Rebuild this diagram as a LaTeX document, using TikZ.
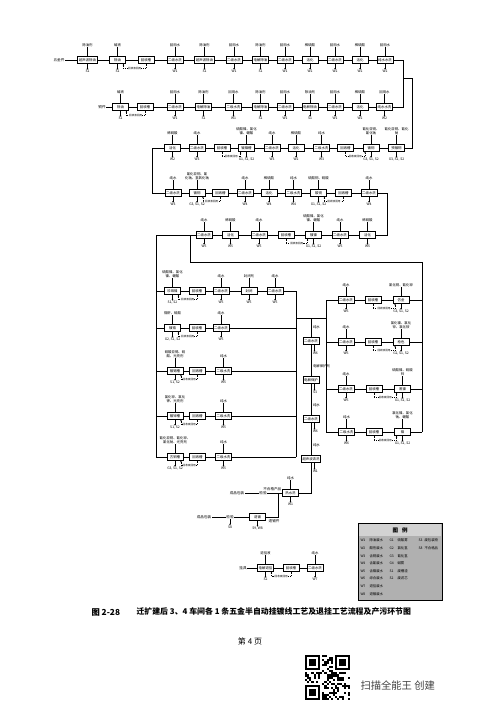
\documentclass[tikz,border=0pt]{standalone}
\usepackage{fontspec}
\setmainfont{Noto Sans CJK SC}
\usetikzlibrary{arrows.meta, positioning, calc}

\tikzset{
  box/.style={draw, line width=0.9pt, fill=white, minimum width=16pt, minimum height=6.4pt,
              inner xsep=1.2pt, inner ysep=0.4pt, font=\fontsize{3.4}{4}\selectfont},
  inlab/.style={inner sep=0.3pt, align=center, font=\fontsize{3.4}{4}\selectfont},
  outlab/.style={inner sep=0.3pt, align=center, font=\fontsize{3.4}{4}\selectfont},
  txt/.style={inner sep=0.5pt, font=\fontsize{3.6}{4}\selectfont},
  reclab/.style={fill=white, inner sep=0.2pt, font=\fontsize{2.6}{3}\selectfont},
  legtxt/.style={inner sep=0.3pt, font=\fontsize{3.4}{4}\selectfont},
  flow/.style={line width=0.75pt},
  feed/.style={line width=0.45pt},
  emit/.style={line width=0.4pt, -{Stealth[length=1.6pt, width=1.5pt]}},
  back/.style={line width=0.4pt, dash pattern=on 1pt off 0.8pt, -{Stealth[length=1.6pt, width=1.5pt]}},
}

% one tank: name, x, y, text, chemicals in, emission out
\newcommand{\stage}[6]{%
  \node[box] (#1) at (#2,#3) {#4};
  \if\relax\detokenize{#5}\relax\else
    \node[inlab, anchor=south] (#1-in) at ($(#1.north)+(0,-9)$) {#5};
    \draw[feed] (#1-in) -- (#1);
  \fi
  \if\relax\detokenize{#6}\relax\else
    \node[outlab, anchor=north] (#1-out) at ($(#1.south)+(0,6)$) {#6};
    \draw[emit] (#1) -- (#1-out);
  \fi}

% tank in the vertical column
\newcommand{\vstage}[6]{%
  \node[box] (#1) at (#2,#3) {#4};
  \node[inlab, anchor=south west] (#1-in) at ($(#1.north)+(1.5,-8)$) {#5};
  \draw[feed] ($(#1-in.south west)+(3,0)$) -- ($(#1-in.south west)+(3,0)$ |- #1.north);
  \node[outlab, anchor=north west] (#1-out) at ($(#1.south)+(1.5,7)$) {#6};
  \draw[emit] ($(#1.south)+(3.5,0)$) -- ($(#1-out.north west)+(2,0)$);}

% dashed return of recovered liquid
\newcommand{\recycle}[3]{%
  \draw[back] (#1.south) -- ++(0,5) -| node[reclab, pos=0.25] {回收液回用}
    ($(#2.south #3)!0.3!(#2.south)$);}

\begin{document}
\begin{tikzpicture}[x=1pt, y=-1pt]
  \useasboundingbox (0,0) rectangle (499,707);

  % row 1
  \node[txt] (wj) at (59,60) {五金件};
  \stage{a1}{87.5}{60}{超声波除油}{除油剂}{S1}
  \stage{a2}{117.5}{60}{除油}{碱液}{S1}
  \stage{a3}{146}{60}{回收槽}{}{}
  \stage{a4}{175}{60}{二级水洗}{回用水}{W1}
  \stage{a5}{204.5}{60}{超声波除油}{除油剂}{S1}
  \stage{a6}{234}{60}{二级水洗}{回用水}{W1}
  \stage{a7}{260.5}{60}{电解除油}{除油剂}{S1}
  \stage{a8}{285}{60}{二级水洗}{回用水}{W1}
  \stage{a9}{310}{60}{活化}{稀硫酸}{W2}
  \stage{a10}{335}{60}{二级水洗}{回用水}{W2}
  \stage{a11}{360}{60}{活化}{稀硫酸}{W2}
  \stage{a12}{385}{60}{纯水水洗}{回用水}{W2}
  \recycle{a3}{a2}{east}
  \draw[flow] (wj) -- (a1) -- (a2) -- (a3) -- (a4) -- (a5) -- (a6) -- (a7) -- (a8) -- (a9) -- (a10) -- (a11) -- (a12);

  % row 2
  \node[txt] (tj) at (102,107) {铜件};
  \stage{b1}{120.5}{107}{除油}{碱液}{S1}
  \stage{b2}{145}{107}{回收槽}{}{}
  \stage{b3}{175}{107}{二级水洗}{回用水}{W1}
  \stage{b4}{203.5}{107}{电解除油}{除油剂}{S1}
  \stage{b5}{233.5}{107}{二级水洗}{回用水}{W1}
  \stage{b6}{260.5}{107}{电解除油}{除油剂}{S1}
  \stage{b7}{285}{107}{二级水洗}{回用水}{W1}
  \stage{b8}{310}{107}{电解除油}{除油剂}{S1}
  \stage{b9}{335}{107}{二级水洗}{回用水}{W1}
  \stage{b10}{360}{107}{活化}{稀硫酸}{W2}
  \stage{b11}{384.5}{107}{纯水水洗}{回用水}{W2}
  \recycle{b2}{b1}{east}
  \draw[flow] (tj) -- (b1) -- (b2) -- (b3) -- (b4) -- (b5) -- (b6) -- (b7) -- (b8) -- (b9) -- (b10) -- (b11);

  \coordinate (mj) at (403,78);
  \coordinate (mk) at (412,78);
  \draw[flow] (a12) -| (mj);
  \draw[flow] (b11) -| (mj);

  % row 3
  \stage{c1}{396.5}{148}{预镀铜}{氰化亚铜、氰化\\钠}{G3, S1, S2}
  \stage{c2}{371}{148}{镀铜}{氰化亚铜、\\氰化钠}{G3, S1, S2}
  \stage{c3}{345.5}{148}{回收槽}{}{}
  \stage{c4}{321.5}{148}{二级水洗}{纯水}{W3}
  \stage{c5}{296}{148}{活化}{稀硫酸}{W2}
  \stage{c6}{272}{148}{二级水洗}{纯水}{W3}
  \stage{c7}{246.5}{148}{镀镍槽}{硫酸镍、氯化\\镍、硼酸}{G1, S1, S2}
  \stage{c8}{222}{148}{回收槽}{}{}
  \stage{c9}{197}{148}{二级水洗}{纯水}{W3}
  \stage{c10}{172.5}{148}{活化}{稀硫酸}{W2}
  \recycle{c3}{c2}{west}
  \recycle{c8}{c7}{west}
  \coordinate (t3) at (152,148);
  \draw[flow] (mj) -- (mk) |- (c1);
  \draw[flow] (c1) -- (c2) -- (c3) -- (c4) -- (c5) -- (c6) -- (c7) -- (c8) -- (c9) -- (c10) -- (t3);

  % row 4
  \stage{d1}{173}{193}{二级水洗}{纯水}{W3}
  \stage{d2}{197}{193}{镀铜}{氰化亚铜、氰\\化钠、氢氧化钠}{G3, S1, S2}
  \stage{d3}{220.5}{193}{回收槽}{}{}
  \stage{d4}{245}{193}{二级水洗}{纯水}{W4}
  \stage{d5}{269}{193}{活化}{稀硫酸}{W4}
  \stage{d6}{293.5}{193}{二级水洗}{纯水}{W4}
  \stage{d7}{318.5}{193}{酸铜}{硫酸铜、硫酸}{G1, S1, S2}
  \stage{d8}{343.5}{193}{回收槽}{}{}
  \stage{d9}{369}{193}{二级水洗}{纯水}{W4}
  \recycle{d3}{d2}{east}
  \recycle{d8}{d7}{east}
  \coordinate (t5) at (387,193);
  \draw[flow] (t3) |- (d1);
  \draw[flow] (d1) -- (d2) -- (d3) -- (d4) -- (d5) -- (d6) -- (d7) -- (d8) -- (d9) -- (t5);

  % row 5
  \stage{e1}{367.5}{235}{活化}{稀硫酸}{W5}
  \stage{e2}{340}{235}{二级水洗}{纯水}{W5}
  \stage{e3}{313.5}{235}{镀镍}{硫酸镍、氯化\\镍、硼酸}{G1, S1, S2}
  \stage{e4}{286}{235}{回收槽}{}{}
  \stage{e5}{259}{235}{二级水洗}{纯水}{W5}
  \stage{e6}{230.5}{235}{活化}{稀硫酸}{W5}
  \stage{e7}{204}{235}{二级水洗}{纯水}{W5}
  \recycle{e4}{e3}{west}
  \coordinate (s1) at (190,235);
  \coordinate (s2) at (156,235);
  \draw[flow] (t5) |- (e1);
  \draw[flow] (e1) -- (e2) -- (e3) -- (e4) -- (e5) -- (e6) -- (e7) -- (s2);

  % split into the two groups of plating tanks
  \coordinate (s3) at (422,262);
  \coordinate (s4) at (422,432);
  \coordinate (s5) at (156,457);
  \coordinate (s6) at (296,291);
  \coordinate (s7) at (296,457);
  \coordinate (s8) at (296,318);
  \coordinate (s9) at (326,318);
  \coordinate (s10) at (326,300);
  \coordinate (s11) at (326,432);
  \coordinate (s12) at (311,318);
  \draw[flow] (s1) |- (s3) -- (s4);
  \draw[flow] (s2) -- (s5);
  \draw[flow] (s6) -- (s7);
  \draw[flow] (s8) -- (s9);
  \draw[flow] (s10) -- (s11);

  % left group
  \stage{g1}{172.5}{291}{珍珠镍}{硫酸镍、氯化\\镍、硼酸}{S1, S2}
  \stage{g2}{197}{291}{回收槽}{}{}
  \stage{g3}{221}{291}{二级水洗}{纯水}{W5}
  \stage{g4}{249}{291}{封闭}{封闭剂}{W5}
  \stage{g5}{275}{291}{二级水洗}{纯水}{W5}
  \recycle{g2}{g1}{east}
  \draw[flow] (s2 |- g1) -- (g1) -- (g2) -- (g3) -- (g4) -- (g5) -- (g5 -| s6);

  \stage{g6}{172.5}{328}{镀铬}{铬酐、硫酸}{G2, S1, S2}
  \stage{g7}{197}{328}{回收槽}{}{}
  \stage{g8}{221}{328}{二级水洗}{纯水}{W5}
  \recycle{g7}{g6}{east}
  \draw[flow] (s2 |- g6) -- (g6) -- (g7) -- (g8) -- (g8 -| s6);

  \stage{g9}{175}{371}{镀锡槽}{硫酸亚锡、硫\\酸、光亮剂}{S1, S2}
  \stage{g10}{197.5}{371}{回收槽}{}{}
  \stage{g11}{223.5}{371}{二级水洗}{纯水}{W5}
  \recycle{g10}{g9}{east}
  \draw[flow] (s2 |- g9) -- (g9) -- (g10) -- (g11) -- (g11 -| s6);

  \stage{g12}{175}{416}{镀锌槽}{氯化锌、氯化\\钾、光亮剂}{S1, S2}
  \stage{g13}{197.5}{416}{回收槽}{}{}
  \stage{g14}{223.5}{416}{二级水洗}{纯水}{W5}
  \recycle{g13}{g12}{east}
  \draw[flow] (s2 |- g12) -- (g12) -- (g13) -- (g14) -- (g14 -| s6);

  \stage{g15}{175}{457}{古铜槽}{氰化亚铜、氰化锌、\\氰化钠、光亮剂}{G3, S1, S2}
  \stage{g16}{197.5}{457}{回收槽}{}{}
  \stage{g17}{223.5}{457}{二级水洗}{纯水}{W5}
  \recycle{g16}{g15}{east}
  \draw[flow] (s5) -- (g15) -- (g16) -- (g17) -- (s7);

  % right group
  \stage{f1}{401}{300}{仿金}{氰化铜、氰化锌}{G3, S1, S2}
  \stage{f2}{373}{300}{回收槽}{}{}
  \stage{f3}{346}{300}{二级水洗}{纯水}{W6}
  \recycle{f2}{f1}{west}
  \draw[flow] (s3 |- f1) -- (f1) -- (f2) -- (f3) -- (f3 -| s10);

  \stage{f4}{401}{342}{枪色}{氯化镍、氯化\\锌、氯化铵}{G2, S1, S2}
  \stage{f5}{373}{342}{回收槽}{}{}
  \stage{f6}{346}{342}{二级水洗}{纯水}{W6}
  \recycle{f5}{f4}{west}
  \draw[flow] (s3 |- f4) -- (f4) -- (f5) -- (f6) -- (f6 -| s10);

  \stage{f7}{402.5}{389}{黑镍}{硫酸镍、硫酸\\锌}{G1, S1, S2}
  \stage{f8}{374}{389}{回收槽}{}{}
  \stage{f9}{346}{389}{二级水洗}{纯水}{W6}
  \recycle{f8}{f7}{west}
  \draw[flow] (s3 |- f7) -- (f7) -- (f8) -- (f9) -- (f9 -| s10);

  \stage{f10}{402.5}{432}{镍}{氯化镍、氯化\\钠、硼酸}{G1, S1, S2}
  \stage{f11}{374}{432}{回收槽}{}{}
  \stage{f12}{346.5}{432}{二级水洗}{纯水}{W6}
  \recycle{f11}{f10}{west}
  \draw[flow] (s4) -- (f10) -- (f11) -- (f12) -- (s11);

  % common column
  \vstage{h1}{311}{341}{二级水洗}{纯水}{W6}
  \vstage{h2}{311}{380}{电解保护}{电解保护剂}{S3}
  \vstage{h3}{311}{419}{二级水洗}{纯水}{W6}
  \vstage{h4}{311}{459}{超声波清洗}{纯水}{W1}
  \draw[flow] (s12) -- (h1) -- (h2) -- (h3) -- (h4);

  % drying, inspection, packing
  \stage{k1}{290.5}{493}{热水洗}{纯水}{W1}
  \node[txt] (jy1) at (263,493) {检验};
  \node[txt] (cp1) at (237,493) {成品包装};
  \coordinate (s13) at (278,493);
  \coordinate (s14) at (278,517);
  \node[txt, anchor=south east] (bhg) at ($(s13)+(4,-1)$) {不合格产品};
  \draw[flow] (h4) |- (k1);
  \draw[flow] (k1) -- (jy1);
  \draw[flow] (jy1) -- (cp1);

  \stage{k2}{257.5}{517}{退镀}{}{S9, W8}
  \node[txt] (jy2) at (230,517) {检验};
  \node[outlab, anchor=north] (jy2-out) at ($(jy2.south)+(0,6)$) {S8};
  \draw[emit] (jy2) -- (jy2-out);
  \node[txt] (cp2) at (204,517) {成品包装};
  \node[txt, anchor=north west] (fx) at ($(s14)+(-10,1.5)$) {退镀件};
  \draw[flow] (s13) -- (s14) -- (k2);
  \draw[flow] (k2) -- (jy2) -- (cp2);

  % rack stripping
  \node[txt] (gj) at (243,568) {挂具};
  \stage{m1}{265.5}{568}{电解退挂}{退挂液}{S2}
  \stage{m2}{291}{568}{回收槽}{}{}
  \stage{m3}{315}{568}{二级水洗}{纯水}{W7}
  \recycle{m2}{m1}{east}
  \draw[flow] (gj) -- (m1) -- (m2) -- (m3);

  % legend
  \draw[line width=0.8pt, fill=gray!62] (358,523) rectangle (442,600);
  \fill[gray!35] (359,524) rectangle (441,536);
  \node[font=\fontsize{5.5}{6}\selectfont\bfseries] (lgt) at (400,530) {图\hspace{4pt}例};
  \foreach \c/\t [count=\i] in {W1/除油废水, W2/酸性废水, W3/含铜废水, W4/含氰废水,
                                W5/含镍废水, W6/综合废水, W7/退挂废水, W8/退镀废水}
    \node[legtxt, anchor=west] (lw\i) at (360,533+7.6*\i) {\makebox[9pt][l]{\c}\t};
  \foreach \c/\t [count=\i] in {G1/硫酸雾, G2/氯化氢, G3/氰化氢, G4/碱雾, S1/废槽渣, S2/废滤芯}
    \node[legtxt, anchor=west] (ls\i) at (389,533+7.6*\i) {\makebox[8pt][l]{\c}\t};
  \foreach \c/\t [count=\i] in {S3/废包装物, S8/不合格品}
    \node[legtxt, anchor=west] (lx\i) at (418,533+7.6*\i) {\makebox[6pt][l]{\c}\t};

  % caption
  \node[font=\fontsize{8.3}{10}\selectfont\bfseries, anchor=west] (fig) at (88,612) {图 2-28};
  \node[font=\fontsize{7.9}{10}\selectfont\bfseries, anchor=west] (cap) at (133,612)
    {迁扩建后 3、4 车间各 1 条五金半自动挂镀线工艺及退挂工艺流程及产污环节图};
  \node[font=\fontsize{8}{10}\selectfont] (page) at (250,641) {第 4 页};

  % scanner mark
  \pgfmathsetseed{7}
  \foreach \i in {0,...,20}{\foreach \j in {0,...,20}{%
    \pgfmathtruncatemacro{\q}{rnd+0.45}
    \ifnum\q>0 \fill (305+\i*2.15,655+\j*2.15) rectangle ++(2.15,2.15);\fi}}
  \foreach \u/\v/\wu/\wv in {0/0/0/0, 14/0/13/0, 0/14/0/13}{%
    \fill[white] (305+\wu*2.15,655+\wv*2.15) rectangle ++(17.2,17.2);
    \fill (305+\u*2.15,655+\v*2.15) rectangle ++(15.05,15.05);
    \fill[white] (307.15+\u*2.15,657.15+\v*2.15) rectangle ++(10.75,10.75);
    \fill (309.3+\u*2.15,659.3+\v*2.15) rectangle ++(6.45,6.45);}
  \node[font=\fontsize{10.3}{12}\selectfont, text=black!75, anchor=west] (wm) at (357,686) {扫描全能王\ 创建};
\end{tikzpicture}
\end{document}
